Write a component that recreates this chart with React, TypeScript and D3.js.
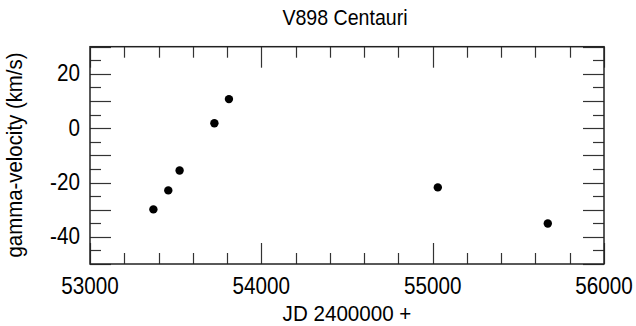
import React from "react";
import * as d3 from "d3";

const title = "V898 Centauri";
const xLabel = "JD 2400000 +";
const yLabel = "gamma-velocity (km/s)";
const jd = [53370, 53457, 53523, 53726, 53811, 55030, 55672];
const vel = [-29.9, -22.9, -15.6, 1.8, 10.7, -21.8, -35.1];
const xTickLabels = [53000, 54000, 55000, 56000];
const yTickLabels = [-40, -20, 0, 20];

const W = 636, H = 326;
const L = 90, R = 604, T = 46.7, B = 264;
const FONT = "'Liberation Sans', Arial, Helvetica, sans-serif";

export default function App() {
  const x = d3.scaleLinear().domain([53000, 56000]).range([L, R]);
  const y = d3.scaleLinear().domain([-50, 30]).range([B, T]);
  const xMinor = d3.range(53000, 56001, 200);
  const yMinor = d3.range(-50, 31, 5);
  const sy = 1.12;
  const lines: JSX.Element[] = [];
  xMinor.forEach((v, i) => {
    const len = v % 1000 === 0 ? 21 : 11;
    const px = Math.round(x(v)) + 0.5;
    lines.push(<line key={"xb" + i} x1={px} x2={px} y1={B} y2={B - len} />);
    lines.push(<line key={"xt" + i} x1={px} x2={px} y1={T} y2={T + len} />);
  });
  yMinor.forEach((v, i) => {
    const len = v % 10 === 0 ? 21 : 11;
    const py = Math.round(y(v)) + 0.5;
    lines.push(<line key={"yl" + i} x1={L} x2={L + len} y1={py} y2={py} />);
    lines.push(<line key={"yr" + i} x1={R} x2={R - len} y1={py} y2={py} />);
  });
  return (
    <svg width={W} height={H} style={{ position: "absolute", left: 0, top: 0, background: "#fff" }}>
      <rect x={0} y={0} width={W} height={H} fill="#fff" />
      <g fontFamily={FONT} fill="#000">
        <text transform={`translate(345,25) scale(1,${sy})`} textAnchor="middle" fontSize={19.6}>{title}</text>
        <text transform={`translate(347,321) scale(1,1.05)`} textAnchor="middle" fontSize={20.6}>{xLabel}</text>
        <text transform={`translate(22,155) rotate(-90) scale(1,${sy})`} textAnchor="middle" fontSize={20.4}>{yLabel}</text>
        {xTickLabels.map((v) => (
          <text key={"xl" + v} transform={`translate(${x(v)},294) scale(1,${sy})`} textAnchor="middle" fontSize={20.7}>{v}</text>
        ))}
        {yTickLabels.map((v) => (
          <text key={"yl" + v} transform={`translate(80,${y(v) + 7.5}) scale(1,${sy})`} textAnchor="end" fontSize={20.7}>{v}</text>
        ))}
      </g>
      <g stroke="#333" strokeWidth={1.2}>{lines}</g>
      <rect x={L} y={T} width={R - L} height={B - T} fill="none" stroke="#222" strokeWidth={1.5} />
      <g fill="#000">
        {jd.map((d, i) => (
          <circle key={i} cx={x(d)} cy={y(vel[i])} r={4.2} />
        ))}
      </g>
    </svg>
  );
}
